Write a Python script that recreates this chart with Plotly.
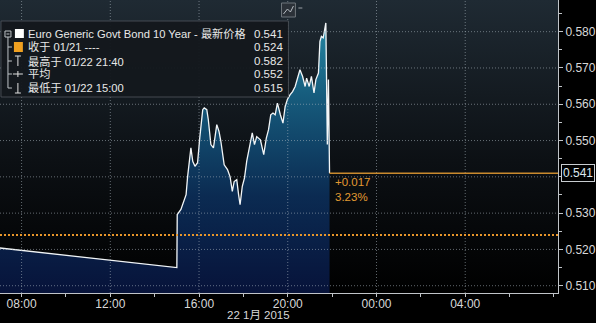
import plotly.graph_objects as go

# ---------------- data ----------------
DAY = "2015-01-22"
times = ["07:00","15:00","15:01","15:11","15:25","15:29","15:38","15:43","15:49","15:56",
         "16:02","16:10","16:14","16:21","16:25","16:32","16:39","16:48","16:54","16:59",
         "17:08","17:17","17:24","17:30","17:35","17:42","17:47","17:51","17:57","18:03",
         "18:09","18:18","18:24","18:30","18:36","18:46","18:55","19:02","19:08","19:14",
         "19:20","19:26","19:32","19:40","19:47","19:53","19:59","20:06","20:13","20:20",
         "20:26","20:33","20:40","20:47","20:51","20:58","21:04","21:11","21:16","21:23",
         "21:27","21:31","21:36","21:41","21:43","21:45","21:47","21:50","21:53"]
values = [0.5204,0.5150,0.5296,0.5310,0.5351,0.5400,0.5480,0.5443,0.5429,0.5439,
          0.5508,0.5585,0.5590,0.5585,0.5558,0.5489,0.5480,0.5544,0.5525,0.5498,
          0.5433,0.5420,0.5400,0.5360,0.5387,0.5392,0.5351,0.5323,0.5374,0.5397,
          0.5443,0.5493,0.5521,0.5489,0.5511,0.5502,0.5461,0.5507,0.5530,0.5571,
          0.5576,0.5571,0.5603,0.5571,0.5548,0.5594,0.5613,0.5626,0.5635,0.5649,
          0.5672,0.5695,0.5677,0.5649,0.5672,0.5649,0.5677,0.5631,0.5668,0.5686,
          0.5773,0.5787,0.5783,0.5815,0.5824,0.5663,0.5489,0.5668,0.5410]

prev_close = 0.524
last_value = 0.541
change_text = "+0.017"
pct_text = "3.23%"

legend_labels = ["Euro Generic Govt Bond 10 Year - 最新价格", "收于 01/21 ----",
                 "最高于 01/22 21:40", "平均", "最低于 01/22 15:00"]
legend_values = ["0.541", "0.524", "0.582", "0.552", "0.515"]

y_ticks = [0.51, 0.52, 0.53, 0.54, 0.55, 0.56, 0.57, 0.58]
y_tick_text = ["0.510", "0.520", "0.530", "", "0.550", "0.560", "0.570", "0.580"]
x_grid_times = ["2015-01-22 08:00", "2015-01-22 12:00", "2015-01-22 16:00",
                "2015-01-22 20:00", "2015-01-23 00:00", "2015-01-23 04:00"]
x_tick_text = ["08:00", "12:00", "16:00", "20:00", "00:00", "04:00"]
date_label = "22 1月 2015"

# ---------------- layout constants ----------------
X_RANGE = ["2015-01-22 07:01:36", "2015-01-23 08:11:00"]
Y_RANGE = [0.50799, 0.58873]
W, H = 596, 323
ML, MR, MT, MB = 0, 35, 0, 30
PW, PH = W - ML - MR, H - MT - MB
FONT = "Liberation Sans, Arial, Noto Sans CJK SC, sans-serif"

def px(x):
    return x / PW

def py(y):
    return 1 - y / PH

x = [f"{DAY} {t}" for t in times]

fig = go.Figure()

# plot background gradient
fig.add_trace(go.Scatter(
    x=[X_RANGE[0], X_RANGE[1], X_RANGE[1], X_RANGE[0], X_RANGE[0]],
    y=[Y_RANGE[0], Y_RANGE[0], Y_RANGE[1], Y_RANGE[1], Y_RANGE[0]],
    mode="lines", line=dict(width=0), fill="toself",
    fillgradient=dict(type="vertical", start=Y_RANGE[0], stop=Y_RANGE[1],
                      colorscale=[[0, "#000000"], [0.45, "#0c1014"], [1, "#1f2a33"]]),
    hoverinfo="skip", showlegend=False))

# price area
fig.add_trace(go.Scatter(
    x=x, y=values, mode="lines",
    line=dict(color="#f2f6f8", width=1.3),
    fill="tozeroy",
    fillgradient=dict(type="vertical", start=0.508, stop=0.585,
                      colorscale=[[0, "#07133a"], [0.35, "#0b2b52"],
                                  [0.7, "#165b7c"], [1, "#268ca8"]]),
    hoverinfo="skip", showlegend=False))

shapes = []
for v in y_ticks:
    shapes.append(dict(type="line", xref="paper", x0=0, x1=1, yref="y", y0=v, y1=v,
                       line=dict(color="rgba(175,185,195,0.55)", width=1, dash="1px,2px"),
                       layer="above"))
for t in x_grid_times:
    shapes.append(dict(type="line", yref="paper", y0=0, y1=1, xref="x", x0=t, x1=t,
                       line=dict(color="rgba(175,185,195,0.55)", width=1, dash="1px,2px"),
                       layer="above"))
shapes.append(dict(type="line", xref="paper", x0=0, x1=1, yref="y", y0=prev_close, y1=prev_close,
                   line=dict(color="#e8962a", width=2, dash="2px,2px"), layer="above"))
shapes.append(dict(type="line", xref="x", x0=x[-1], x1=X_RANGE[1], yref="y",
                   y0=last_value, y1=last_value,
                   line=dict(color="#c98a2e", width=1.5), layer="above"))

# legend box
shapes.append(dict(type="rect", xref="paper", yref="paper", x0=px(1), x1=px(290),
                   y0=py(97), y1=py(21), fillcolor="rgba(20,24,29,0.96)",
                   line=dict(color="rgba(80,86,92,0.8)", width=1), layer="above"))
row_y = [34, 47, 61, 74, 88]
shapes.append(dict(type="line", xref="paper", yref="paper", x0=px(8), x1=px(8),
                   y0=py(37), y1=py(88), line=dict(color="#bfc4c8", width=1), layer="above"))
shapes.append(dict(type="rect", xref="paper", yref="paper", x0=px(5), x1=px(11),
                   y0=py(37), y1=py(31), line=dict(color="#bfc4c8", width=1),
                   fillcolor="rgba(20,24,29,1)", layer="above"))
shapes.append(dict(type="line", xref="paper", yref="paper", x0=px(6.5), x1=px(9.5),
                   y0=py(34), y1=py(34), line=dict(color="#bfc4c8", width=1), layer="above"))
for ry in row_y[1:]:
    shapes.append(dict(type="line", xref="paper", yref="paper", x0=px(8), x1=px(12),
                       y0=py(ry), y1=py(ry), line=dict(color="#bfc4c8", width=1), layer="above"))
shapes.append(dict(type="rect", xref="paper", yref="paper", x0=px(15), x1=px(24),
                   y0=py(38), y1=py(29), fillcolor="#ffffff", line=dict(width=0), layer="above"))
shapes.append(dict(type="rect", xref="paper", yref="paper", x0=px(14), x1=px(23),
                   y0=py(52), y1=py(42), fillcolor="#f0a020", line=dict(width=0), layer="above"))
for (a, b, c, d) in [(18, 18, 56, 66), (15, 21, 56, 56), (18, 18, 83, 93), (15, 21, 93, 93),
                     (13, 23, 74, 74), (18, 18, 71, 77)]:
    shapes.append(dict(type="line", xref="paper", yref="paper", x0=px(a), x1=px(b),
                       y0=py(c), y1=py(d), line=dict(color="#e0e0e0", width=1), layer="above"))
# top chart icon
shapes.append(dict(type="rect", xref="paper", yref="paper", x0=px(283), x1=px(297),
                   y0=py(17), y1=py(3), fillcolor="#2b3138",
                   line=dict(color="#6f767c", width=1), layer="above"))
shapes.append(dict(type="path", xref="paper", yref="paper",
                   path=f"M {px(285)} {py(14)} L {px(289)} {py(9)} L {px(292)} {py(12)} L {px(295)} {py(6)}",
                   line=dict(color="#b8bec4", width=1), layer="above"))
shapes.append(dict(type="line", xref="paper", yref="paper", x0=px(300), x1=px(304),
                   y0=py(8), y1=py(8), line=dict(color="#9aa0a6", width=1), layer="above"))

annotations = []
for lab, val, ry in zip(legend_labels, legend_values, row_y):
    annotations.append(dict(xref="paper", yref="paper", x=px(26), y=py(ry), text=lab,
                            showarrow=False, xanchor="left", yanchor="middle",
                            font=dict(family=FONT, size=11.2, color="#e8e8e8")))
    annotations.append(dict(xref="paper", yref="paper", x=px(287), y=py(ry), text=val,
                            showarrow=False, xanchor="right", yanchor="middle",
                            font=dict(family=FONT, size=11.5, color="#e8e8e8")))
annotations.append(dict(xref="x", yref="y", x=x[-1], y=last_value,
                        text=f"{change_text}<br>{pct_text}", showarrow=False,
                        xanchor="left", yanchor="top", xshift=3, yshift=-1, align="left",
                        font=dict(family=FONT, size=11.5, color="#e39a32")))
annotations.append(dict(xref="paper", yref="y", x=1, y=last_value, text=f"{last_value:.3f}",
                        showarrow=False, xanchor="left", yanchor="middle", xshift=3,
                        bgcolor="#000000", bordercolor="#c8ccd0", borderwidth=1, borderpad=1,
                        font=dict(family=FONT, size=12, color="#dce6ee")))
annotations.append(dict(xref="paper", yref="paper", x=px(260), y=py(315), text=date_label,
                        showarrow=False, xanchor="center", yanchor="middle",
                        font=dict(family=FONT, size=11.5, color="#d8d8d8")))

fig.update_layout(
    width=W, height=H, margin=dict(l=ML, r=MR, t=MT, b=MB),
    paper_bgcolor="#000000", plot_bgcolor="#000000",
    showlegend=False, shapes=shapes, annotations=annotations,
    font=dict(family=FONT, size=12, color="#d8d8d8"),
    xaxis=dict(type="date", range=X_RANGE, tickmode="array",
               tickvals=x_grid_times, ticktext=x_tick_text,
               showgrid=False, zeroline=False, showline=True, linecolor="#c0c4c8",
               ticks="outside", ticklen=3, tickcolor="#c0c4c8", ticklabelstandoff=-3,
               tickfont=dict(family=FONT, size=12, color="#d8d8d8"),
               minor=dict(dtick=2 * 3600 * 1000, tick0="2015-01-22 00:00", ticks="outside",
                          ticklen=3, tickcolor="#c0c4c8", showgrid=False),
               layer="above traces", fixedrange=True),
    yaxis=dict(side="right", range=Y_RANGE, tickvals=y_ticks, ticktext=y_tick_text,
               showgrid=False, zeroline=False, showline=True, linecolor="#c0c4c8",
               ticks="outside", ticklen=4, tickcolor="#c0c4c8",
               tickfont=dict(family=FONT, size=12, color="#d8d8d8"),
               minor=dict(dtick=0.005, tick0=0.505, ticks="outside", ticklen=3,
                          tickcolor="#c0c4c8", showgrid=False),
               layer="above traces", fixedrange=True),
)

fig.write_html("out.html")
